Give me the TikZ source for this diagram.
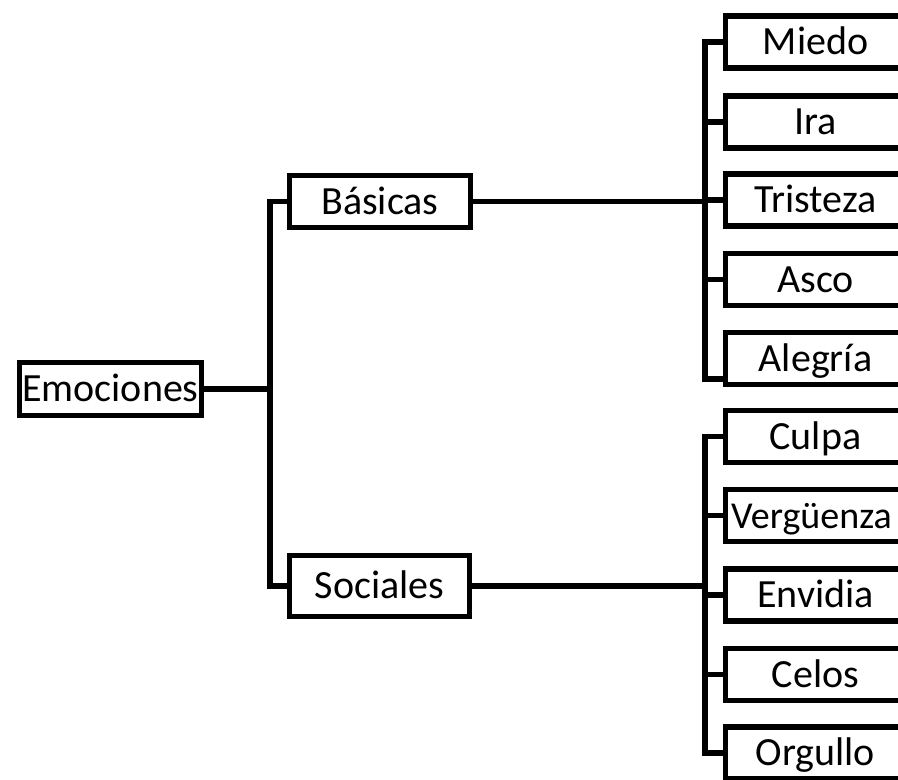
\documentclass[tikz,border=0pt]{standalone}
\usepackage{fontspec}
\setmainfont{Carlito}
\begin{document}
\begin{tikzpicture}[x=1pt,y=-1pt,
  line width=5.5pt,
  box/.style={draw, inner sep=0pt, minimum height=52pt,
    text height=33pt, text depth=7.2pt,
    font=\fontsize{40}{45}\selectfont},
  leaf/.style={box, minimum width=180pt},
  link/.style={line width=5.5pt, line cap=rect}]
\useasboundingbox (0,0) rectangle (898,780);
\clip (0,0) rectangle (898,780);

% root and the two groups
\node[box, minimum width=182pt, minimum height=53pt] (emo) at (110.5,389) {Emociones};
\node[box, minimum width=181pt] (bas) at (380,201.5) {Básicas};
\node[box, minimum width=180pt, minimum height=61pt] (soc) at (379.5,586) {Sociales};

% basic emotions
\node[leaf] (mie) at (815.5,42)    {Miedo};
\node[leaf] (ira) at (815.5,122)   {Ira};
\node[leaf] (tri) at (815.5,200)   {Tristeza};
\node[leaf] (asc) at (815.5,279.5) {Asco};
\node[leaf] (ale) at (815.5,358.5) {Alegría};

% social emotions (the long word is set a little tighter and spills over its box)
\node[leaf] (cul) at (815.5,436.5) {Culpa};
\node[leaf, inner xsep=-10pt, font=\fontsize{38}{45}\selectfont] (ver) at (815.5,515.5) {\kern-8pt Vergüenza};
\node[leaf] (env) at (815.5,595)   {Envidia};
\node[leaf] (cel) at (815.5,674.5) {Celos};
\node[leaf] (org) at (815.5,753)   {Orgullo};

% trunk junctions
\coordinate (lt) at (270,389);
\coordinate (rt) at (705,0);
\coordinate (aleb) at (725.5,379);

% root to groups
\draw[link] (emo.east) -- (lt);
\draw[link] (bas.west) -| (lt) |- (soc.west);

% basic emotions bracket
\draw[link] (bas.east) -- (bas.east -| rt);
\draw[link] (mie.west) -| (rt |- aleb) -- (aleb);
\foreach \n in {ira,tri,asc}
  \draw[link] (\n.west) -- (\n.west -| rt);

% social emotions bracket
\draw[link] (soc.east) -- (soc.east -| rt);
\draw[link] (cul.west) -| (rt |- org.west) -- (org.west);
\foreach \n in {ver,env,cel}
  \draw[link] (\n.west) -- (\n.west -| rt);
\end{tikzpicture}
\end{document}
